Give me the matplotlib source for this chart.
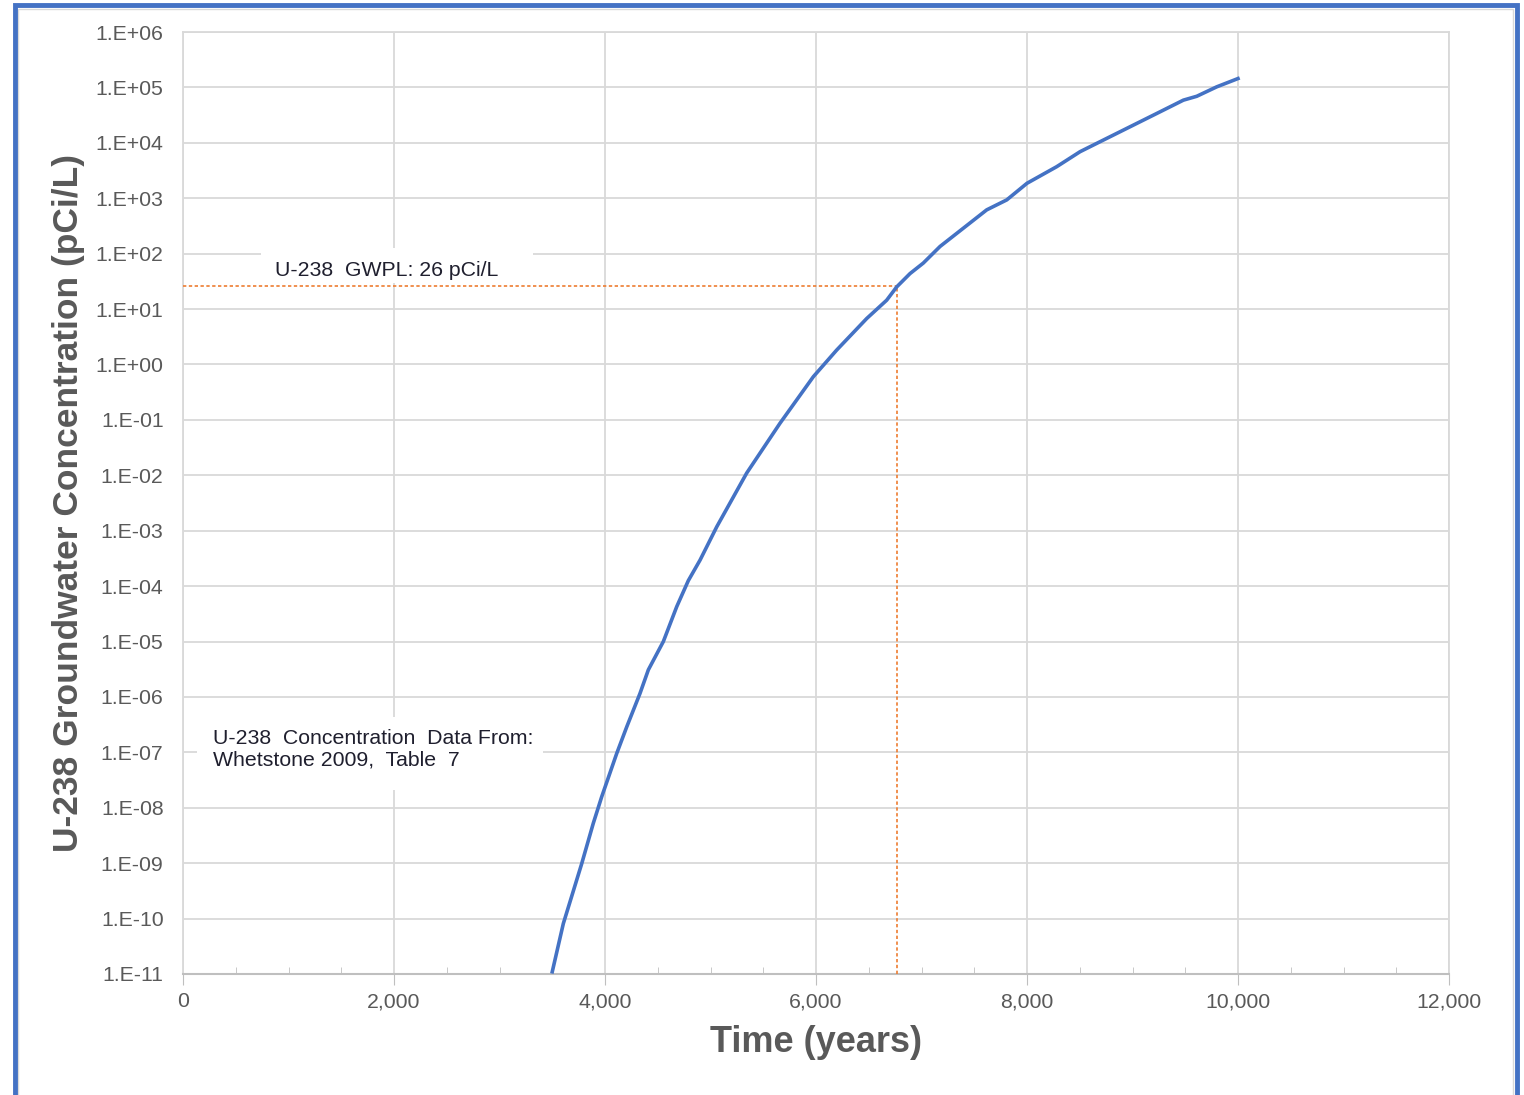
import numpy as np
import matplotlib.pyplot as plt
from matplotlib.patches import Rectangle
from matplotlib.ticker import FuncFormatter, MultipleLocator

plt.rcParams['font.family'] = ['Liberation Sans', 'DejaVu Sans']

# U-238 concentration, log10 of pCi/L
years = [3500, 3605, 3779, 3889, 3969, 4111, 4206, 4331, 4411, 4553, 4680,
         4790, 4901, 5059, 5343, 5659, 5975, 6196, 6481, 6670, 6765, 6891,
         7017, 7176, 7397, 7618, 7808, 8000, 8282, 8503, 8724, 8977, 9230,
         9482, 9609, 9798, 10000]
log_conc = [-10.96, -10.09, -9.01, -8.28, -7.80, -7.02, -6.54, -5.94, -5.51, -5.00, -4.37,
            -3.90, -3.53, -2.93, -1.96, -1.06, -0.22, 0.26, 0.83, 1.16, 1.40, 1.64,
            1.83, 2.13, 2.46, 2.79, 2.97, 3.27, 3.57, 3.84, 4.05, 4.29, 4.53,
            4.77, 4.84, 5.01, 5.16]
conc = [10 ** v for v in log_conc]

gwpl = 26
gwpl_year = 6770

blue = '#4472C4'
orange = '#ED7D31'
grey_txt = '#595959'
W, H = 1524, 1095

fig = plt.figure(figsize=(15.24, 10.95), dpi=100)
ax = fig.add_axes([183/W, 1 - 974/H, 1266/W, 942/H])

ax.set_yscale('log')
ax.set_xlim(0, 12000)
ax.set_ylim(1e-11, 1e6)
ax.set_yticks([10.0 ** k for k in range(-11, 7)])
ax.yaxis.set_minor_locator(plt.NullLocator())
ax.yaxis.set_major_formatter(FuncFormatter(lambda v, p: '1.E%+03d' % round(np.log10(v))))
ax.xaxis.set_major_locator(MultipleLocator(2000))
ax.xaxis.set_minor_locator(MultipleLocator(500))
ax.xaxis.set_major_formatter(FuncFormatter(lambda v, p: '{:,.0f}'.format(v)))

ax.grid(True, which='major', color='#d9d9d9', lw=1.3)
ax.set_axisbelow(True)
for s in ['top', 'right', 'left']:
    ax.spines[s].set_color('#d9d9d9')
    ax.spines[s].set_linewidth(1.3)
ax.spines['bottom'].set_color('#bfbfbf')
ax.spines['bottom'].set_linewidth(1.5)

ax.tick_params(axis='y', length=0, labelsize=15.3, labelcolor=grey_txt, pad=14)
ax.tick_params(axis='x', which='major', length=8, direction='out', color='#bfbfbf',
               labelsize=15.3, labelcolor=grey_txt, pad=5)
ax.tick_params(axis='x', which='minor', length=5, direction='in', color='#bfbfbf')


def px_box(x0, y0, x1, y1):
    # white box given in figure pixels (from top-left)
    r = Rectangle((x0/W, 1 - y1/H), (x1 - x0)/W, (y1 - y0)/H, transform=fig.transFigure,
                  facecolor='white', edgecolor='none', zorder=2.5)
    ax.add_artist(r)
    r.set_transform(fig.transFigure)


px_box(261, 248, 533, 283)
px_box(197, 717, 543, 790)

fig.text(275/W, 1 - 270/H, 'U-238  GWPL: 26 pCi/L', fontsize=15.3,
         color='#1f1f2e', va='center', ha='left', zorder=3)
fig.text(213/W, 1 - 749.5/H, 'U-238  Concentration  Data From:\nWhetstone 2009,  Table  7',
         fontsize=15.3, color='#1f1f2e', va='center', ha='left', linespacing=1.15, zorder=3)

ax.plot([0, gwpl_year], [gwpl, gwpl], color=orange, lw=1.2, ls=(0, (2, 1.5)), zorder=4)
ax.plot([gwpl_year, gwpl_year], [1e-11, gwpl], color=orange, lw=1.2, ls=(0, (2, 1.5)), zorder=4)
ax.plot(years, conc, color=blue, lw=2.6, zorder=5)

ax.set_xlabel('Time (years)', fontsize=26, fontweight='bold', color=grey_txt)
ax.set_ylabel('U-238 Groundwater Concentration (pCi/L)', fontsize=25.5, fontweight='bold',
              color=grey_txt)
ax.xaxis.set_label_coords((816 - 183) / 1266, -(1043 - 974) / 942)
ax.yaxis.set_label_coords(-(183 - 69) / 1266, (974 - 503) / 942)
ax.xaxis.label.set_va('center')
ax.yaxis.label.set_va('center')

# chart frame
fig.patches.append(Rectangle((18/W, -0.01), 1495/W, 1 - 9/H + 0.01, transform=fig.transFigure,
                             fill=False, edgecolor='#d9d9d9', lw=1, zorder=0))
fig.patches.append(Rectangle((15/W, -0.05), 1502/W, 1 - 5/H + 0.05, transform=fig.transFigure,
                             fill=False, edgecolor=blue, lw=3.5, zorder=1))

fig.savefig('out.png', dpi=100)
